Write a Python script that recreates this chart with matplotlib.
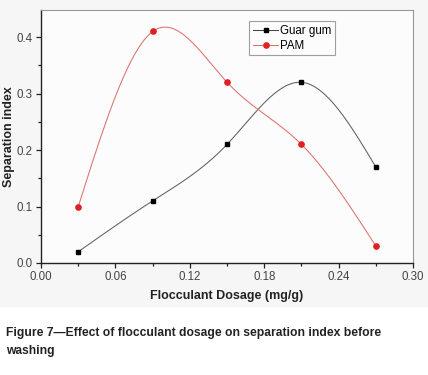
import matplotlib
matplotlib.use('Agg')
import matplotlib.pyplot as plt
import numpy as np
from matplotlib.patches import Rectangle

dosage = [0.03, 0.09, 0.15, 0.21, 0.27]
guar_gum = [0.02, 0.11, 0.21, 0.32, 0.17]
pam = [0.10, 0.41, 0.32, 0.21, 0.03]
xticks = [0.00, 0.06, 0.12, 0.18, 0.24, 0.30]
yticks = [0.0, 0.1, 0.2, 0.3, 0.4]


def spline(x, y, n=200):
    # natural cubic spline, like Origin's spline connect
    x = np.asarray(x, float)
    y = np.asarray(y, float)
    k = len(x)
    h = np.diff(x)
    A = np.zeros((k, k))
    b = np.zeros(k)
    A[0, 0] = A[-1, -1] = 1
    for i in range(1, k - 1):
        A[i, i - 1] = h[i - 1]
        A[i, i] = 2 * (h[i - 1] + h[i])
        A[i, i + 1] = h[i]
        b[i] = 6 * ((y[i + 1] - y[i]) / h[i] - (y[i] - y[i - 1]) / h[i - 1])
    M = np.linalg.solve(A, b)
    xs = np.linspace(x[0], x[-1], n)
    idx = np.clip(np.searchsorted(x, xs) - 1, 0, k - 2)
    x0, x1 = x[idx], x[idx + 1]
    hh = x1 - x0
    t0, t1 = x1 - xs, xs - x0
    ys = (M[idx] * t0**3 + M[idx + 1] * t1**3) / (6 * hh) \
        + (y[idx] / hh - M[idx] * hh / 6) * t0 + (y[idx + 1] / hh - M[idx + 1] * hh / 6) * t1
    return xs, ys


plt.rcParams['font.family'] = ['Liberation Sans', 'DejaVu Sans']

fig = plt.figure(figsize=[4.28, 3.75], dpi=100)
fig.patches.append(Rectangle((0, 1 - 307 / 375), 1, 307 / 375, transform=fig.transFigure,
                             facecolor='#f6f6f6', edgecolor='none', zorder=-5))
ax = fig.add_axes([0.096, 0.2987, 0.869, 0.6746])
ax.set_facecolor('#fcfcfc')

gx, gy = spline(dosage, guar_gum)
px, py = spline(dosage, pam)
ax.plot(gx, gy, color='#606060', linewidth=0.75)
ax.plot(px, py, color='#e07070', linewidth=0.75)
ax.plot(dosage, guar_gum, 's', color='black', markersize=3.3)
ax.plot(dosage, pam, 'o', color='#e02020', markersize=3.8)

ax.plot([], [], '-s', color='#444444', mfc='black', mec='black', markersize=3.3, linewidth=0.75, label='Guar gum')
ax.plot([], [], '-o', color='#e07070', mfc='#e02020', mec='#e02020', markersize=3.8, linewidth=0.75, label='PAM')
leg = ax.legend(loc='upper left', bbox_to_anchor=(0.56, 0.955), fontsize=8.3, frameon=True, fancybox=False,
                handlelength=2.2, borderpad=0.3, labelspacing=0.25, handletextpad=0.2, borderaxespad=0)
leg.get_frame().set_edgecolor('#888888')
leg.get_frame().set_linewidth(0.8)
leg.get_frame().set_facecolor('#fcfcfc')

ax.set_xlim(0, 0.30)
ax.set_ylim(0, 0.448)
ax.set_xticks(xticks)
ax.set_xticklabels(['%.2f' % t for t in xticks])
ax.set_yticks(yticks)
ax.set_yticklabels(['%.1f' % t for t in yticks])
ax.set_xticks(np.arange(0.03, 0.30, 0.06), minor=True)
ax.set_yticks(np.arange(0.05, 0.45, 0.1), minor=True)
ax.tick_params(labelsize=8.3, direction='out', length=3.5, width=0.9, colors='#222222',
               labelcolor='#444444', pad=2.5)
ax.tick_params(which='minor', direction='out', length=2, width=0.9, colors='#222222')

for s in ['top', 'right']:
    ax.spines[s].set_color('#999999')
    ax.spines[s].set_linewidth(0.8)
for s in ['left', 'bottom']:
    ax.spines[s].set_color('#222222')
    ax.spines[s].set_linewidth(1.0)

ax.set_xlabel('Flocculant Dosage (mg/g)', fontsize=9, fontweight='bold', labelpad=5, color='#222222')
ax.set_ylabel('Separation index', fontsize=9, fontweight='bold', labelpad=1.5, color='#222222')

fig.text(0.014, 1 - 333 / 375, 'Figure 7\u2014Effect of flocculant dosage on separation index before',
         fontsize=8.7, fontweight='bold', va='center', ha='left', color='#222222')
fig.text(0.014, 1 - 351 / 375, 'washing', fontsize=8.7, fontweight='bold', va='center', ha='left', color='#222222')

fig.savefig('out.png', dpi=100)
